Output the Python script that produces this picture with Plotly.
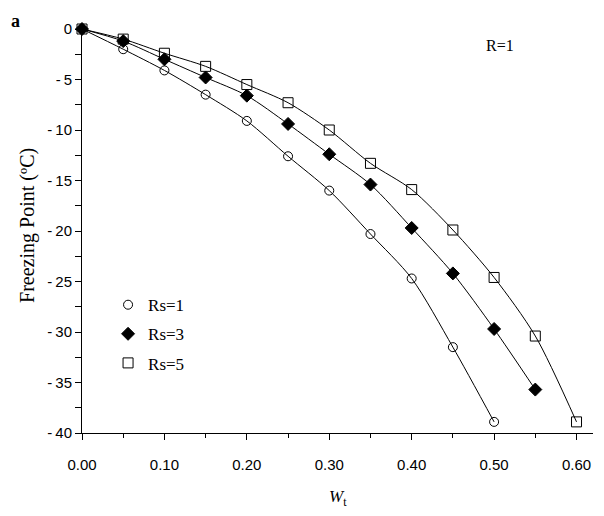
import plotly.graph_objects as go

wt_rs1 = [0.00, 0.05, 0.10, 0.15, 0.20, 0.25, 0.30, 0.35, 0.40, 0.45, 0.50]
fp_rs1 = [0.0, -2.0, -4.1, -6.5, -9.1, -12.6, -16.0, -20.3, -24.7, -31.5, -38.9]

wt_rs3 = [0.00, 0.05, 0.10, 0.15, 0.20, 0.25, 0.30, 0.35, 0.40, 0.45, 0.50, 0.55]
fp_rs3 = [0.0, -1.2, -3.0, -4.8, -6.6, -9.4, -12.4, -15.4, -19.7, -24.2, -29.7, -35.7]

wt_rs5 = [0.00, 0.05, 0.10, 0.15, 0.20, 0.25, 0.30, 0.35, 0.40, 0.45, 0.50, 0.55, 0.60]
fp_rs5 = [0.0, -1.0, -2.4, -3.7, -5.5, -7.3, -10.0, -13.3, -15.9, -19.9, -24.6, -30.4, -38.9]

y_tickvals = [0, -5, -10, -15, -20, -25, -30, -35, -40]
y_ticktext = ["0", "-\u20095", "-\u200910", "-\u200915", "-\u200920", "-\u200925", "-\u200930", "-\u200935", "-\u200940"]
x_tickvals = [0.0, 0.1, 0.2, 0.3, 0.4, 0.5, 0.6]
x_ticktext = ["0.00", "0.10", "0.20", "0.30", "0.40", "0.50", "0.60"]

series = [
    ("Rs=1", wt_rs1, fp_rs1, dict(symbol="circle-open", size=9, color="black", line=dict(color="black", width=1))),
    ("Rs=3", wt_rs3, fp_rs3, dict(symbol="diamond", size=10, color="black", line=dict(color="black", width=1))),
    ("Rs=5", wt_rs5, fp_rs5, dict(symbol="square-open", size=10, color="black", line=dict(color="black", width=1))),
]

fig = go.Figure()
for i, (name, xs, ys, mk) in enumerate(series):
    fig.add_trace(go.Scatter(
        x=xs, y=ys, mode="lines", showlegend=False, hoverinfo="skip",
        line=dict(color="black", width=1, shape="spline", smoothing=0.8),
        cliponaxis=False,
    ))
for i, (name, xs, ys, mk) in enumerate(series):
    fig.add_trace(go.Scatter(
        x=xs, y=ys, mode="markers", name=name,
        marker=mk, cliponaxis=False, legendgroup=f"g{i}",
    ))

serif = "Liberation Serif, Times New Roman, serif"
sans = "Liberation Sans, Arial, sans-serif"

# page body has an 8px margin, so the figure is shrunk by 8px and margins shifted
fig.update_layout(
    width=596, height=508,
    margin=dict(l=74, r=11, t=21, b=83),
    paper_bgcolor="white", plot_bgcolor="white",
    showlegend=True,
    legend=dict(
        x=0.051, y=0.361, xanchor="left", yanchor="top",
        font=dict(family=serif, size=17, color="black"),
        bgcolor="rgba(0,0,0,0)", tracegroupgap=4,
    ),
    xaxis=dict(
        range=[0, 0.62], showgrid=False, zeroline=False, automargin=False,
        showline=True, linecolor="black", linewidth=1,
        tickmode="array", tickvals=x_tickvals, ticktext=x_ticktext,
        ticks="outside", ticklen=6, tickcolor="black", tickwidth=1,
        minor=dict(ticks="outside", ticklen=4, dtick=0.05, tick0=0, tickcolor="black", showgrid=False),
        tickfont=dict(family=sans, size=15, color="black"),
        ticklabelstandoff=12,
    ),
    yaxis=dict(
        range=[-40, 0], showgrid=False, zeroline=False, automargin=False,
        showline=True, linecolor="black", linewidth=1,
        tickmode="array", tickvals=y_tickvals, ticktext=y_ticktext,
        ticks="outside", ticklen=6, tickcolor="black", tickwidth=1,
        minor=dict(ticks="outside", ticklen=6, dtick=2.5, tick0=0, tickcolor="black", showgrid=False),
        tickfont=dict(family=sans, size=15, color="black"),
    ),
    annotations=[
        dict(text="<b>a</b>", xref="paper", yref="paper", x=-0.142, y=1.021, xanchor="left", yanchor="middle",
             showarrow=False, font=dict(family=serif, size=18, color="black")),
        dict(text="R=1", xref="paper", yref="paper", x=0.818, y=0.960, xanchor="center", yanchor="middle",
             showarrow=False, font=dict(family=serif, size=16, color="black")),
        dict(text="Freezing Point (ºC)", xref="paper", yref="paper", x=-0.1057, y=0.515, xanchor="center",
             yanchor="middle", textangle=-90, showarrow=False, font=dict(family=serif, size=20, color="black")),
        dict(text="<i>W</i><sub>t</sub>", xref="paper", yref="paper", x=0.501, y=-0.161, xanchor="center",
             yanchor="middle", showarrow=False, font=dict(family=serif, size=17, color="black")),
    ],
)

fig.write_html("out.html")
